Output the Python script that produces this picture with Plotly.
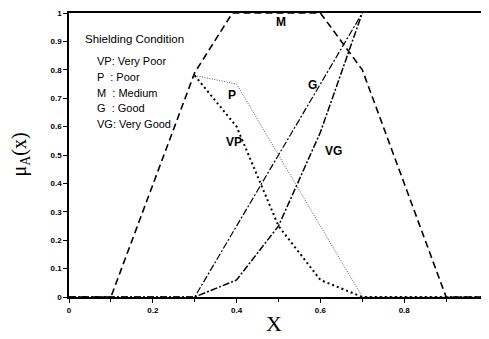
import plotly.graph_objects as go

# Membership functions (x, mu)
vp_x = [0.3, 0.4, 0.5, 0.6, 0.7, 1.0]
vp_y = [0.78, 0.60, 0.25, 0.06, 0.0, 0.0]
p_x = [0.3, 0.4, 0.7, 1.0]
p_y = [0.78, 0.75, 0.0, 0.0]
m_x = [0.0, 0.1, 0.3, 0.39, 0.6, 0.7, 0.9, 1.0]
m_y = [0.0, 0.0, 0.79, 1.0, 1.0, 0.8, 0.0, 0.0]
g_x = [0.0, 0.3, 0.5, 0.7]
g_y = [0.0, 0.0, 0.5, 1.0]
vg_x = [0.0, 0.3, 0.4, 0.5, 0.6, 0.7]
vg_y = [0.0, 0.0, 0.06, 0.25, 0.58, 1.0]

legend_title = "Shielding Condition"
legend_items = ["VP: Very Poor", "P  : Poor", "M  : Medium", "G  : Good", "VG: Very Good"]
curve_labels = [("M", 0.49, 0.97), ("P", 0.375, 0.71), ("VP", 0.37, 0.545),
                ("G", 0.565, 0.745), ("VG", 0.607, 0.515)]

x_ticks = [0, 0.2, 0.4, 0.6, 0.8]
y_ticks = [0, 0.1, 0.2, 0.3, 0.4, 0.5, 0.6, 0.7, 0.8, 0.9, 1]

fig = go.Figure()
fig.add_trace(go.Scatter(x=m_x, y=m_y, mode="lines",
                         line=dict(color="black", width=1.6, dash="7px,4px")))
fig.add_trace(go.Scatter(x=p_x, y=p_y, mode="lines",
                         line=dict(color="#444", width=0.9, dash="1px,1.5px")))
fig.add_trace(go.Scatter(x=vp_x, y=vp_y, mode="lines",
                         line=dict(color="black", width=2, dash="2px,3px")))
fig.add_trace(go.Scatter(x=g_x, y=g_y, mode="lines",
                         line=dict(color="black", width=1.2, dash="7px,2px,2px,2px")))
fig.add_trace(go.Scatter(x=vg_x, y=vg_y, mode="lines",
                         line=dict(color="black", width=1.5, dash="7px,2px,2px,2px")))

ann = []
ann.append(dict(x=0.033, y=0.91, xref="x", yref="y", text=legend_title, showarrow=False,
                xanchor="left", yanchor="middle",
                font=dict(family="Liberation Sans", size=11.5, color="black")))
for i, t in enumerate(legend_items):
    ann.append(dict(x=0.062, y=0.83 - i * 0.055, xref="x", yref="y", text=t, showarrow=False,
                    xanchor="left", yanchor="middle",
                    font=dict(family="Liberation Sans", size=11, color="black")))
for t, x, y in curve_labels:
    ann.append(dict(x=x, y=y, xref="x", yref="y", text="<b>" + t + "</b>", showarrow=False,
                    xanchor="left", yanchor="middle",
                    font=dict(family="Liberation Sans", size=12, color="black")))
# axis titles
ann.append(dict(x=0.49, y=-0.092, xref="x", yref="paper", text="X", showarrow=False,
                xanchor="center", yanchor="middle",
                font=dict(family="Liberation Serif", size=22, color="black")))
ann.append(dict(x=-0.118, y=0.5, xref="paper", yref="paper", text="μ<sub>A</sub>(x)",
                showarrow=False, textangle=-90, xanchor="center", yanchor="middle",
                font=dict(family="Liberation Serif", size=20, color="black")))

fig.update_layout(
    width=481, height=331,
    margin=dict(l=61, r=1, t=5, b=42),
    paper_bgcolor="white", plot_bgcolor="white",
    showlegend=False,
    annotations=ann,
    xaxis=dict(range=[0, 1.0], tickvals=x_ticks, ticktext=["0", "0.2", "0.4", "0.6", "0.8"],
               automargin=False,
               showgrid=False, zeroline=False, showline=True, linecolor="black", linewidth=2,
               mirror=True, ticks="outside", ticklen=4, tickcolor="black",
               minor=dict(dtick=0.1, ticks="outside", ticklen=3, tickcolor="black"),
               tickfont=dict(family="Liberation Sans", size=8, color="black", weight="bold")),
    yaxis=dict(range=[0, 1.0], tickvals=y_ticks,
               ticktext=["0", "0.1", "0.2", "0.3", "0.4", "0.5", "0.6", "0.7", "0.8", "0.9", "1"],
               automargin=False,
               showgrid=False, zeroline=False, showline=True, linecolor="black", linewidth=1.5,
               mirror=True, ticks="outside", ticklen=4, tickcolor="black",
               tickfont=dict(family="Liberation Sans", size=8, color="black", weight="bold")),
)

fig.write_html("out.html")
